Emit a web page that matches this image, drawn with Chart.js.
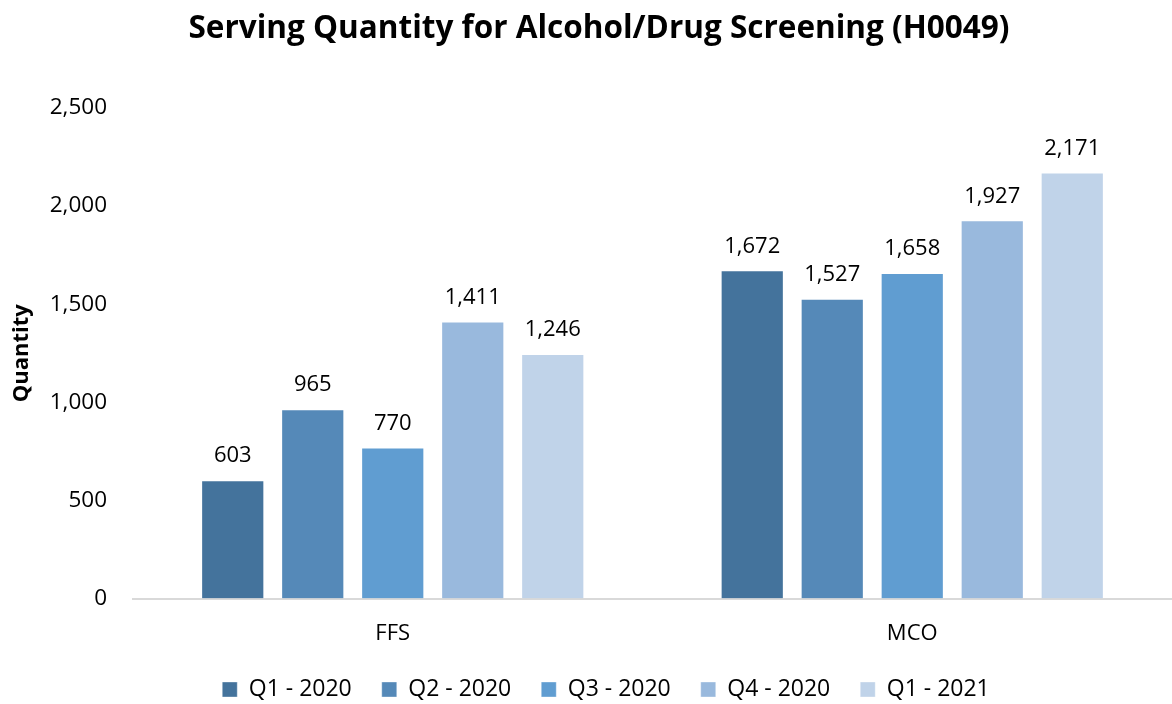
<!DOCTYPE html>
<html><head><meta charset="utf-8">
<script src="https://cdn.jsdelivr.net/npm/chart.js@4"></script>
<style>html,body{margin:0;padding:0;background:#fff}#wrap{width:1172px;height:704px}</style>
</head><body><div id="wrap"><canvas id="c" width="1172" height="704"></canvas></div>
<script>
const categories = ["FFS", "MCO"];
const seriesNames = ["Q1 - 2020", "Q2 - 2020", "Q3 - 2020", "Q4 - 2020", "Q1 - 2021"];
const q1_2020 = [603, 1672];
const q2_2020 = [965, 1527];
const q3_2020 = [770, 1658];
const q4_2020 = [1411, 1927];
const q1_2021 = [1246, 2171];
const colors = ["#44739C", "#5589B8", "#609DD1", "#99B9DD", "#C0D3E9"];
const FONT = "'Open Sans', sans-serif";

const seriesData = [q1_2020, q2_2020, q3_2020, q4_2020, q1_2021];
const labelPlugin = {
  id: 'valueLabels',
  afterLayout(chart) {
    const lg = chart.legend;
    if (lg) { lg.left += 20; lg.right += 20; lg.top += 7; lg.bottom += 7; }
    const tb = chart.titleBlock;
    if (tb) { tb.left += 13; tb.right += 13; }
  },
  afterDatasetsDraw(chart) {
    const ctx = chart.ctx;
    ctx.save();
    ctx.font = "22px " + FONT;
    ctx.fillStyle = "#000";
    ctx.textAlign = "center";
    ctx.textBaseline = "bottom";
    chart.data.datasets.forEach((ds, i) => {
      chart.getDatasetMeta(i).data.forEach((bar, j) => {
        ctx.fillText(ds.data[j].toLocaleString('en-US'), bar.x, bar.y - 13);
      });
    });
    ctx.restore();
  }
};

new Chart(document.getElementById('c'), {
  type: 'bar',
  data: {
    labels: categories,
    datasets: seriesNames.map((n, i) => ({
      label: n, data: seriesData[i], backgroundColor: colors[i],
      borderColor: "rgba(255,255,255,0.35)", borderWidth: 1,
      categoryPercentage: 0.77, barPercentage: 0.79
    }))
  },
  options: {
    responsive: false, animation: false,
    layout: { padding: { left: 0, right: 0, top: 0, bottom: 0 } },
    plugins: {
      title: { display: true, text: "Serving Quantity for Alcohol/Drug Screening (H0049)",
        font: { family: FONT, size: 31.5, weight: 'bold' }, color: "#000",
        padding: { top: 10, bottom: 60 } },
      legend: { position: 'bottom',
        labels: { font: { family: FONT, size: 23 }, color: "#000", boxWidth: 15, boxHeight: 15, padding: 30 } },
      tooltip: { enabled: false }
    },
    scales: {
      x: {
        grid: { display: false, drawTicks: false },
        border: { display: true, color: "#D9D9D9", width: 2 },
        ticks: { font: { family: FONT, size: 22 }, color: "#000", padding: 22 },
        afterFit(scale) { scale.height -= 28; }
      },
      y: {
        min: 0, max: 2500,
        grid: { display: false, drawTicks: false },
        border: { display: false },
        ticks: { stepSize: 500, font: { family: FONT, size: 22.5 }, color: "#000", padding: 26,
          callback: v => v.toLocaleString('en-US') },
        title: { display: true, text: "Quantity", font: { family: FONT, size: 22, weight: 'bold' }, color: "#000", padding: { top: 9, bottom: 0 } },
        afterFit(scale) { scale.width = 133; }
      }
    }
  },
  plugins: [labelPlugin]
});
</script></body></html>
